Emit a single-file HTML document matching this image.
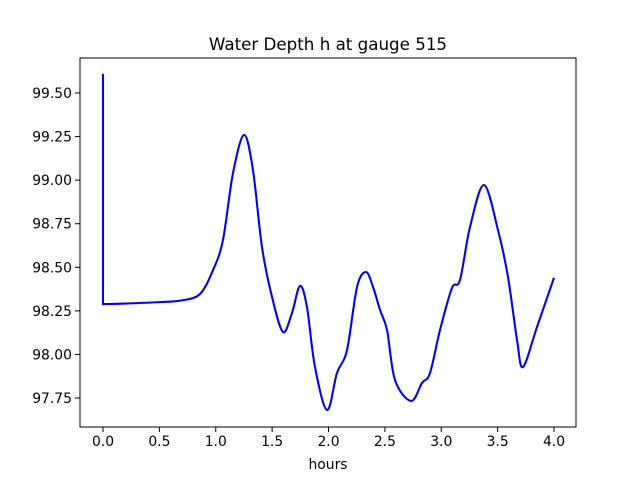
<!DOCTYPE html>
<html><head><meta charset="utf-8"><style>
body{margin:0;background:#fff}
svg text{font-family:"DejaVu Sans","Liberation Sans",sans-serif;font-size:13.9px;fill:#000}
</style></head><body>
<svg id="chart" width="640" height="480" xmlns="http://www.w3.org/2000/svg">
<rect width="640" height="480" fill="#fff"/>
<text x="328" y="50" text-anchor="middle" style="font-size:16.7px">Water Depth h at gauge 515</text>
<g id="xt"></g>
<g id="yt"></g>
<path id="line" fill="none" stroke="#0000ff" stroke-width="2.08"/>
<rect x="80" y="58" width="496" height="369" fill="none" stroke="#000" stroke-width="1"/>
<text x="328" y="469" text-anchor="middle">hours</text>
</svg>
<script>
const times=[0,0,0.2,0.5,0.7,0.86,0.976,1.064,1.153,1.251,1.33,1.41,1.499,1.596,1.676,1.747,1.809,1.88,1.987,2.075,2.164,2.253,2.333,2.395,2.457,2.519,2.59,2.732,2.829,2.9,2.989,3.095,3.166,3.255,3.379,3.503,3.592,3.672,3.725,3.849,4.0];
const depths=[99.61,98.289,98.292,98.30,98.31,98.347,98.484,98.657,99.041,99.259,99.058,98.616,98.33,98.129,98.238,98.393,98.272,97.928,97.681,97.893,98.025,98.387,98.473,98.387,98.255,98.14,97.853,97.733,97.836,97.893,98.14,98.381,98.427,98.731,98.972,98.714,98.444,98.083,97.928,98.157,98.44];
const xTicks=[0,0.5,1,1.5,2,2.5,3,3.5,4];
const xTickLabels=["0.0","0.5","1.0","1.5","2.0","2.5","3.0","3.5","4.0"];
const yTicks=[97.75,98,98.25,98.5,98.75,99,99.25,99.5];
const yTickLabels=["97.75","98.00","98.25","98.50","98.75","99.00","99.25","99.50"];
const X=t=>103+t*112.75;
const Y=v=>93+(99.5-v)*174.29;
const ns="http://www.w3.org/2000/svg";
const xt=document.getElementById('xt'),yt=document.getElementById('yt');
xTicks.forEach((t,i)=>{
 const l=document.createElementNS(ns,'line');
 l.setAttribute('x1',X(t));l.setAttribute('x2',X(t));l.setAttribute('y1',427);l.setAttribute('y2',432);l.setAttribute('stroke','#000');
 
 
 xt.appendChild(l);
 const s=document.createElementNS(ns,'text');
 s.setAttribute('x',X(t));s.setAttribute('y',446);s.setAttribute('text-anchor','middle');s.textContent=xTickLabels[i];
 
 
 xt.appendChild(s);
});
yTicks.forEach((v,i)=>{
 const l=document.createElementNS(ns,'line');
 l.setAttribute('x1',75);l.setAttribute('x2',80);l.setAttribute('y1',Y(v));l.setAttribute('y2',Y(v));l.setAttribute('stroke','#000');
 
 
 yt.appendChild(l);
 const s=document.createElementNS(ns,'text');
 s.setAttribute('x',72);s.setAttribute('y',Y(v)+5);s.setAttribute('text-anchor','end');s.textContent=yTickLabels[i];
 
 
 yt.appendChild(s);
});
const P=times.map((t,i)=>[X(t),Y(depths[i])]);
let d='M'+P[0][0]+','+P[0][1]+' L'+P[1][0]+','+P[1][1];
for(let i=1;i<P.length-1;i++){
 const p0=P[Math.max(1,i-1)],p1=P[i],p2=P[i+1],p3=P[Math.min(P.length-1,i+2)];
 const c1=[p1[0]+(p2[0]-p0[0])/6,p1[1]+(p2[1]-p0[1])/6];
 const c2=[p2[0]-(p3[0]-p1[0])/6,p2[1]-(p3[1]-p1[1])/6];
 d+=' C'+c1[0]+','+c1[1]+' '+c2[0]+','+c2[1]+' '+p2[0]+','+p2[1];
}
document.getElementById('line').setAttribute('d',d);
</script>
</body></html>
